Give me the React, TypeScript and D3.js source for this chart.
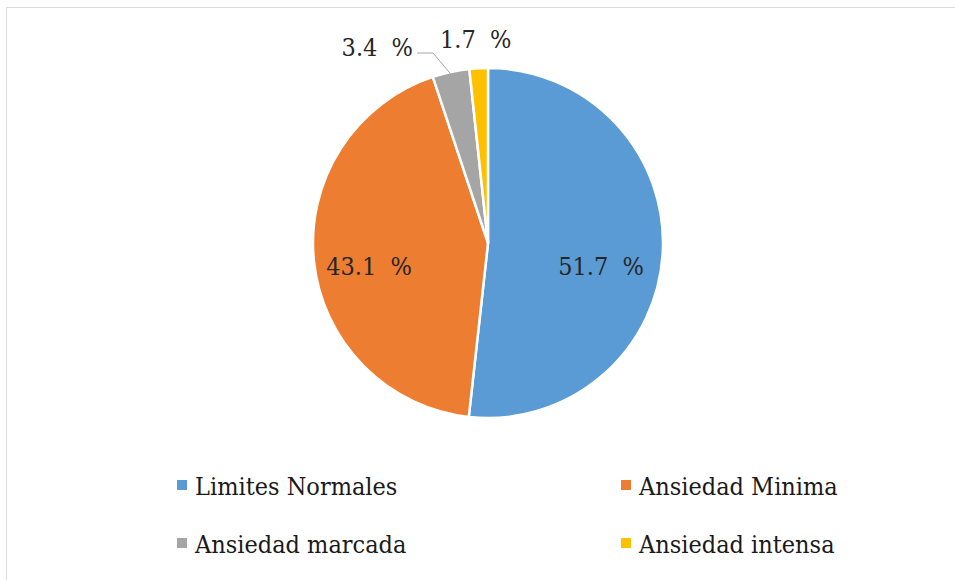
import React from "react";
import * as d3 from "d3";

const categories = ["Limites Normales", "Ansiedad Minima", "Ansiedad marcada", "Ansiedad intensa"];
const values = [51.7, 43.1, 3.4, 1.7];
const labels = ["51.7  %", "43.1  %", "3.4  %", "1.7  %"];
const colors = ["#5b9bd5", "#ed7d31", "#a5a5a5", "#ffc000"];

const W = 955;
const H = 580;
const cx = 488;
const cy = 243;
const R = 175;
const FONT = '"DejaVu Serif Condensed", "DejaVu Serif", serif';

export default function App() {
  const pie = d3.pie<number>().sort(null).value((d) => d)(values);
  const arc = d3.arc<d3.PieArcDatum<number>>().innerRadius(0).outerRadius(R);

  const labelPos: { x: number; y: number; anchor: string }[] = [
    { x: 601 - cx, y: 275 - cy, anchor: "middle" },
    { x: 369 - cx, y: 275 - cy, anchor: "middle" },
    { x: 413 - cx, y: 56 - cy, anchor: "end" },
    { x: 440 - cx, y: 48 - cy, anchor: "start" },
  ];

  const legendPos = [
    { x: 195, y: 495 },
    { x: 639, y: 495 },
    { x: 195, y: 553 },
    { x: 639, y: 553 },
  ];

  const ang = (pie[2].startAngle + pie[2].endAngle) / 2;
  const edge = [Math.sin(ang) * (R - 3), -Math.cos(ang) * (R - 3)];

  const textStyle: React.CSSProperties = { fontFamily: FONT, fontStretch: "condensed", whiteSpace: "pre" };

  return (
    <svg
      width={W}
      height={H}
      style={{ position: "absolute", left: 0, top: 0, background: "#fff", fontFamily: FONT }}
    >
      <rect x={6.5} y={7.5} width={1000} height={1000} fill="#fff" stroke="#dcdcdc" strokeWidth={1} />
      <g transform={`translate(${cx},${cy})`}>
        {pie.map((p, i) => (
          <path key={i} d={arc(p) || ""} fill={colors[i]} stroke="#fff" strokeWidth={2.5} strokeLinejoin="round" />
        ))}
        <polyline
          points={`${417 - cx},${53 - cy} ${433 - cx},${53 - cy} ${edge[0]},${edge[1]}`}
          fill="none"
          stroke="#a6a6a6"
          strokeWidth={1}
        />
        {pie.map((p, i) => (
          <text
            key={i}
            x={labelPos[i].x}
            y={labelPos[i].y}
            textAnchor={labelPos[i].anchor as any}
            fontSize={25}
            fill="#262626"
            style={textStyle}
          >
            {labels[i]}
          </text>
        ))}
      </g>
      {categories.map((c, i) => (
        <g key={c}>
          <rect x={legendPos[i].x - 18} y={legendPos[i].y - 15} width={10} height={10} fill={colors[i]} />
          <text x={legendPos[i].x} y={legendPos[i].y} fontSize={25} fill="#1a1a1a" style={textStyle}>
            {c}
          </text>
        </g>
      ))}
    </svg>
  );
}
